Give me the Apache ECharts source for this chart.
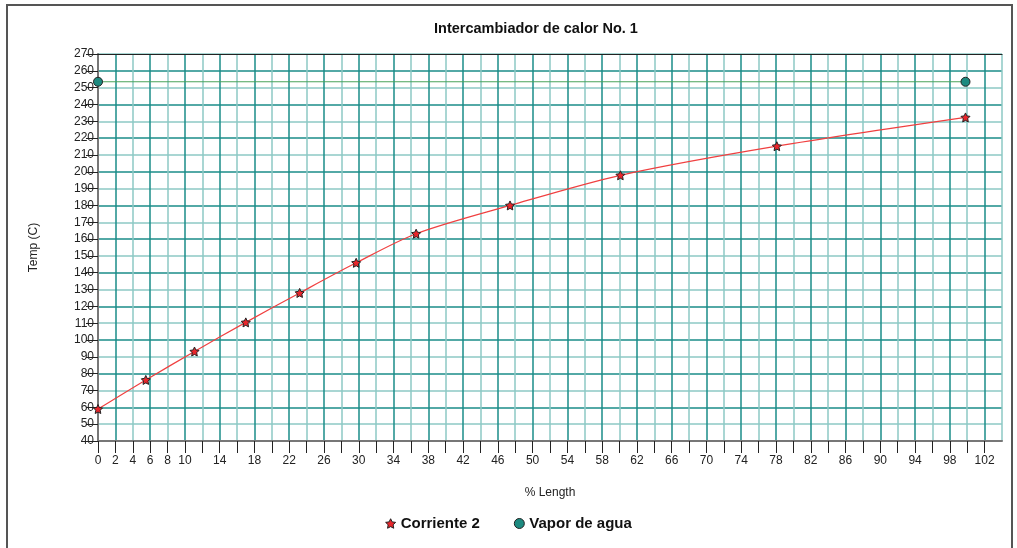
<!DOCTYPE html>
<html>
<head>
<meta charset="utf-8">
<title>Intercambiador de calor No. 1</title>
<script src="https://cdn.jsdelivr.net/npm/echarts@6/dist/echarts.min.js"></script>
<style>
  html, body { margin: 0; padding: 0; background: #fff; }
  #chart { width: 1017px; height: 548px; }
</style>
</head>
<body>
<div id="chart"></div>
<script>
// Corriente 2 (stars) - % length vs temp
var corrienteX = [0, 5.5, 11.1, 17.0, 23.2, 29.7, 36.6, 47.4, 60.1, 78.1, 99.8]
var corrienteY = [59, 76.3, 93.2, 110.5, 128, 145.9, 163.2, 180, 197.9, 215.2, 232.3]
// Vapor de agua, constant line
var vaporX = [0, 99.8]
var vaporY = [253.5, 253.5]

var xMin = 0, xMax = 104, xStep = 2
var yMin = 40, yMax = 270, yStep = 10

var starPath = 'path://M0,-10L2.9,-4L9.5,-3.1L4.7,1.5L5.9,8.1L0,5L-5.9,8.1L-4.7,1.5L-9.5,-3.1L-2.9,-4Z'

function pairs(xs, ys) {
  return xs.map(function (x, i) { return [x, ys[i]] })
}

var chart = echarts.init(document.getElementById('chart'))
var font = 'Liberation Sans, Arial, sans-serif'

chart.setOption({
  animation: false,
  textStyle: { fontFamily: font },
  title: {
    text: 'Intercambiador de calor No. 1',
    left: 531,
    textAlign: 'center',
    top: 16,
    textStyle: { fontSize: 14.5, fontWeight: 'bold', color: '#111', fontFamily: font }
  },
  graphic: [{
    type: 'rect',
    shape: { x: 7, y: 5, width: 1005, height: 560 },
    style: { fill: 'none', stroke: '#555', lineWidth: 2 },
    z: -1
  }],
  grid: { left: 98, right: 15, top: 54, bottom: 107 },
  legend: {
    bottom: 12,
    left: 'center',
    itemGap: 34,
    itemWidth: 10,
    itemHeight: 10,
    textStyle: { fontSize: 15, fontWeight: 'bold', color: '#111', fontFamily: font },
    data: [
      { name: 'Corriente 2', icon: starPath, itemStyle: { color: '#e8262b', borderColor: '#222', borderWidth: 1 } },
      { name: 'Vapor de agua', icon: 'circle', itemStyle: { color: '#1d8a80', borderColor: '#222', borderWidth: 1 } }
    ]
  },
  xAxis: [{
    type: 'value',
    min: xMin,
    max: xMax,
    interval: xStep,
    name: '% Length',
    nameLocation: 'middle',
    nameGap: 46,
    nameTextStyle: { fontSize: 12, color: '#222' },
    axisLine: { show: true, onZero: false, lineStyle: { color: '#777', width: 2 } },
    axisTick: { show: true, length: 12, lineStyle: { color: ['#111', '#777'] } },
    axisLabel: {
      margin: 14,
      fontSize: 12,
      color: '#222',
      showMaxLabel: false,
      formatter: function (v) {
        if (v <= 10 || (v - 10) % 4 === 0) return String(v)
        return ''
      }
    },
    splitLine: { show: true, lineStyle: { color: ['#8cc8c4', '#1a8c88'], width: 1.5 } }
  }, {
    type: 'value',
    position: 'top',
    min: xMin,
    max: xMax,
    axisLine: { show: true, lineStyle: { color: '#222', width: 1 } },
    axisTick: { show: false },
    axisLabel: { show: false },
    splitLine: { show: false }
  }],
  yAxis: {
    type: 'value',
    min: yMin,
    max: yMax,
    interval: yStep,
    name: 'Temp (C)',
    nameLocation: 'middle',
    nameGap: 58,
    nameTextStyle: { fontSize: 12, color: '#222' },
    axisLine: { show: true, lineStyle: { color: '#777', width: 2 } },
    axisTick: { show: true, length: 12, lineStyle: { color: ['#111', '#777'] } },
    axisLabel: { margin: 4, fontSize: 12, color: '#222' },
    splitLine: { show: true, lineStyle: { color: ['#1a8c88', '#8cc8c4'], width: 1.5 } }
  },
  series: [
    {
      name: 'Corriente 2',
      type: 'line',
      data: pairs(corrienteX, corrienteY),
      smooth: 0.3,
      symbol: starPath,
      symbolSize: 9,
      lineStyle: { color: '#f04040', width: 1.2 },
      itemStyle: { color: '#e8262b', borderColor: '#222', borderWidth: 1 },
      z: 3
    },
    {
      name: 'Vapor de agua',
      type: 'line',
      data: pairs(vaporX, vaporY),
      symbol: 'circle',
      symbolSize: 9,
      lineStyle: { color: '#4aa35a', width: 1.2 },
      itemStyle: { color: '#1d8a80', borderColor: '#222', borderWidth: 1 },
      z: 3
    }
  ]
})
</script>
</body>
</html>
